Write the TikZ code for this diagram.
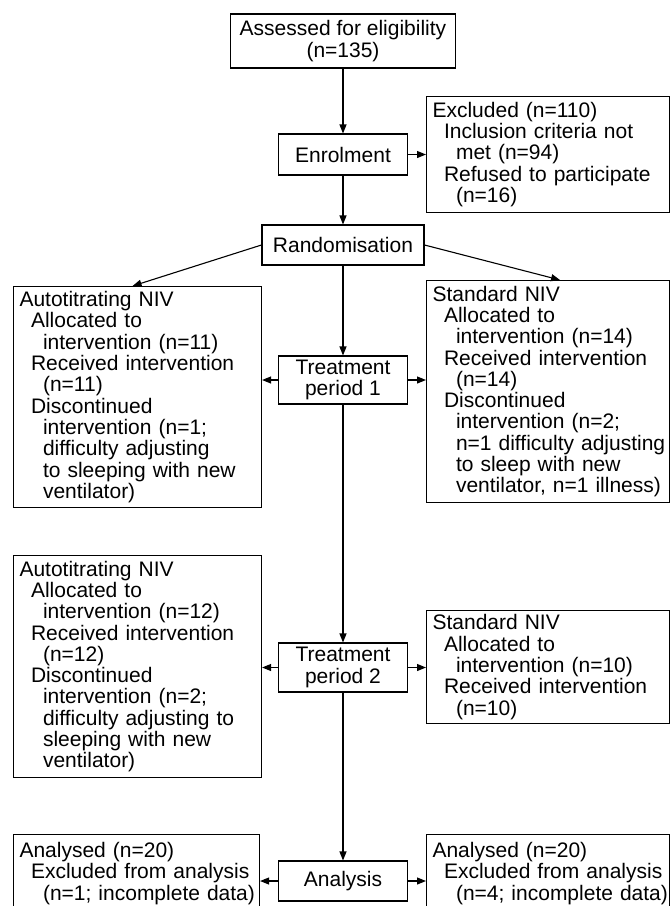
\documentclass[tikz,border=0pt]{standalone}
\usepackage{fontspec}
\setmainfont{Liberation Sans}
\usetikzlibrary{arrows.meta}
\newcommand{\indA}{\hspace*{11.5pt}}
\newcommand{\indB}{\hspace*{23.5pt}}
\begin{document}
\begin{tikzpicture}[x=1pt,y=-1pt,
    every node/.style={font=\fontsize{21pt}{21.3pt}\selectfont},
    stage/.style={draw,line width=1.1pt,align=center,inner sep=0pt},
    group/.style={draw,line width=1.1pt,align=left,anchor=north west,inner xsep=6pt,inner ysep=0pt},
    arr/.style={line width=1.1pt,-{Triangle[length=9pt,width=7pt]}}]
    \useasboundingbox (0,0) rectangle (670,906);

    % Main column
    \node[stage,minimum width=225pt,minimum height=54pt] (assess) at (343,41) {Assessed for eligibility\\(n=135)};
    \node[stage,minimum width=129pt,minimum height=41pt] (enrol) at (343,154.5) {Enrolment};
    \node[stage,minimum width=162pt,minimum height=40pt] (rand) at (343,245) {Randomisation};
    \node[stage,minimum width=129pt,minimum height=48pt] (treat1) at (343,380) {Treatment\\period 1};
    \node[stage,minimum width=129pt,minimum height=49pt] (treat2) at (343,667.5) {Treatment\\period 2};
    \node[stage,minimum width=129pt,minimum height=40pt] (analysis) at (343,881) {Analysis};

    % Exclusions
    \node[group,text width=231pt,minimum height=116pt] (excl) at (426,96) {Excluded (n=110)\\
        \indA Inclusion criteria not\\
        \indB met (n=94)\\
        \indA Refused to participate\\
        \indB (n=16)};

    % Treatment period 1
    \node[group,text width=236pt,minimum height=221pt] (auto1) at (13,286) {Autotitrating NIV\\
        \indA Allocated to\\
        \indB intervention (n=11)\\
        \indA Received intervention\\
        \indB (n=11)\\
        \indA Discontinued\\
        \indB intervention (n=1;\\
        \indB difficulty adjusting\\
        \indB to sleeping with new\\
        \indB ventilator)};
    \node[group,text width=231pt,minimum height=222pt] (std1) at (426,280) {Standard NIV\\
        \indA Allocated to\\
        \indB intervention (n=14)\\
        \indA Received intervention\\
        \indB (n=14)\\
        \indA Discontinued\\
        \indB intervention (n=2;\\
        \indB\mbox{n=1 difficulty adjusting}\\
        \indB to sleep with new\\
        \indB\mbox{ventilator, n=1 illness)}};

    % Treatment period 2
    \node[group,text width=236pt,minimum height=222pt] (auto2) at (13,555) {Autotitrating NIV\\
        \indA Allocated to\\
        \indB intervention (n=12)\\
        \indA Received intervention\\
        \indB (n=12)\\
        \indA Discontinued\\
        \indB intervention (n=2;\\
        \indB difficulty adjusting to\\
        \indB sleeping with new\\
        \indB ventilator)};
    \node[group,text width=231pt,minimum height=113pt] (std2) at (426,610) {Standard NIV\\
        \indA Allocated to\\
        \indB intervention (n=10)\\
        \indA Received intervention\\
        \indB (n=10)};

    % Analysis
    \node[group,text width=234pt,minimum height=78pt] (anl1) at (13,834) {Analysed (n=20)\\
        \indA Excluded from analysis\\
        \indB\mbox{(n=1; incomplete data)}};
    \node[group,text width=231pt,minimum height=78pt] (anl2) at (426,834) {Analysed (n=20)\\
        \indA Excluded from analysis\\
        \indB\mbox{(n=4; incomplete data)}};

    % Arrows down the main column
    \draw[arr] (assess) -- (enrol);
    \draw[arr] (enrol) -- (rand);
    \draw[arr] (rand) -- (treat1);
    \draw[arr] (treat1) -- (treat2);
    \draw[arr] (treat2) -- (analysis);

    % Arrows to the sides
    \draw[arr] (enrol.east) -- (enrol.east -| excl.west);
    \draw[arr] (rand.west) -- ([xshift=-5pt]auto1.north);
    \draw[arr] (rand.east) -- ([xshift=12pt]std1.north);
    \draw[arr] (treat1.west) -- (treat1.west -| auto1.east);
    \draw[arr] (treat1.east) -- (treat1.east -| std1.west);
    \draw[arr] (treat2.west) -- (treat2.west -| auto2.east);
    \draw[arr] (treat2.east) -- (treat2.east -| std2.west);
    \draw[arr] (analysis.west) -- (analysis.west -| anl1.east);
    \draw[arr] (analysis.east) -- (analysis.east -| anl2.west);

\end{tikzpicture}
\end{document}
